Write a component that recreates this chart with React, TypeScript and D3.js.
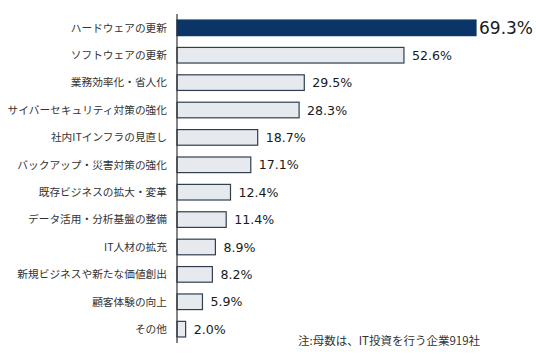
import React from "react";
import * as d3 from "d3";

const categories = [
  "ハードウェアの更新",
  "ソフトウェアの更新",
  "業務効率化・省人化",
  "サイバーセキュリティ対策の強化",
  "社内ITインフラの見直し",
  "バックアップ・災害対策の強化",
  "既存ビジネスの拡大・変革",
  "データ活用・分析基盤の整備",
  "IT人材の拡充",
  "新規ビジネスや新たな価値創出",
  "顧客体験の向上",
  "その他",
];
const values = [69.3, 52.6, 29.5, 28.3, 18.7, 17.1, 12.4, 11.4, 8.9, 8.2, 5.9, 2.0];
const note = "注:母数は、IT投資を行う企業919社";

const W = 536;
const H = 357;
const FONT = "'Noto Sans CJK JP', 'Noto Sans', sans-serif";

export default function App() {
  const x0 = 177;
  const x = d3.scaleLinear().domain([0, 69.3]).range([x0, 476]);
  const y = d3
    .scaleBand<string>()
    .domain(categories)
    .range([14, 343])
    .paddingInner(0.43)
    .paddingOuter(0.22);

  return (
    <svg
      width={W}
      height={H}
      style={{ position: "absolute", left: 0, top: 0, background: "#fff" }}
      fontFamily={FONT}
    >
      {categories.map((c, i) => {
        const by = y(c)!;
        const bh = y.bandwidth();
        const first = i === 0;
        return (
          <g key={c}>
            <rect
              x={x0}
              y={by}
              width={x(values[i]) - x0}
              height={bh}
              fill={first ? "#0b3566" : "#e6eaee"}
              stroke={first ? "#0b3566" : "#2f3f4f"}
              strokeWidth={1.2}
            />
            <text
              x={167}
              y={by + bh / 2}
              dy="0.35em"
              textAnchor="end"
              fontSize={10.7}
              fill="#333"
            >
              {c}
            </text>
            <text
              x={x(values[i]) + (first ? 3 : 8)}
              y={by + bh / 2}
              dy="0.36em"
              fontSize={first ? 17 : 12.6}
              fill="#1a1a1a"
              fontFamily="'DejaVu Sans', sans-serif"
            >
              {values[i].toFixed(1)}%
            </text>
          </g>
        );
      })}
      <line x1={x0} x2={x0} y1={14} y2={343} stroke="#333" strokeWidth={1.2} />
      <text x={298} y={341} dy="0.35em" fontSize={11.5} fill="#333">
        {note}
      </text>
    </svg>
  );
}
